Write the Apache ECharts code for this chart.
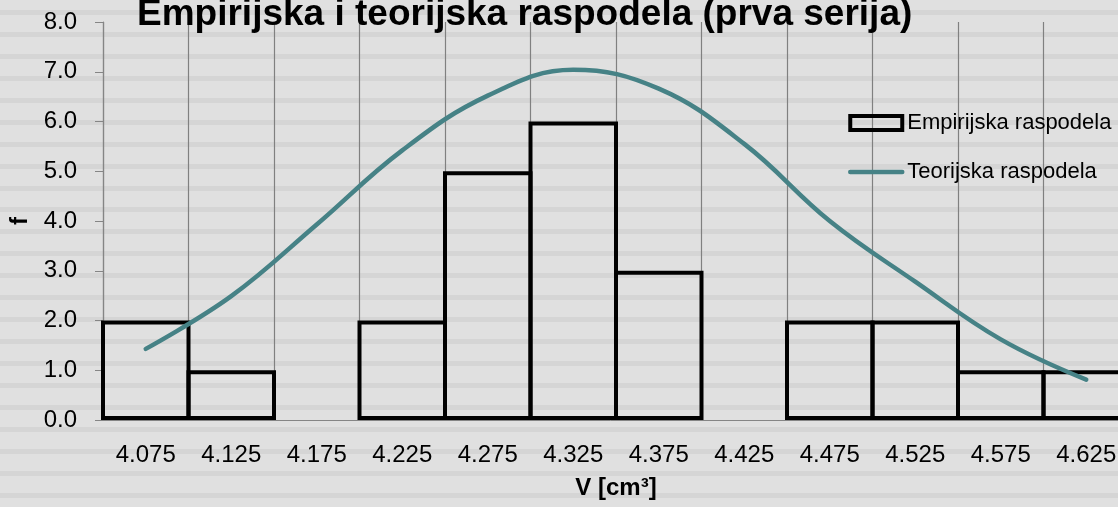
<!DOCTYPE html>
<html>
<head>
<meta charset="utf-8">
<script src="https://cdn.jsdelivr.net/npm/echarts@6/dist/echarts.min.js"></script>
<style>
  html, body { margin: 0; padding: 0; }
  /* striped sheet background */
  #chart {
    width: 1118px;
    height: 507px;
    background: repeating-linear-gradient(to bottom, #e0e0e0 0px, #e0e0e0 10px, #d5d5d5 10px, #d5d5d5 15px, #e0e0e0 15px, #e0e0e0 21.94px);
  }
</style>
</head>
<body>
<div id="chart"></div>
<script>
// intervals (class centres)
var categories = ['4.075', '4.125', '4.175', '4.225', '4.275', '4.325', '4.375', '4.425', '4.475', '4.525', '4.575', '4.625'];
// empirical frequencies
var empirical = [2, 1, 0, 2, 5, 6, 3, 0, 2, 2, 1, 1];
// theoretical (normal) frequencies
var theoretical = [1.43, 2.49, 3.93, 5.42, 6.52, 7.04, 6.66, 5.55, 4.0, 2.78, 1.62, 0.81];
var yTicks = [0, 8, 1]; // min, max, interval

var FONT = '"Liberation Sans", Arial, sans-serif';
var myChart = echarts.init(document.getElementById('chart'));

var option = {
  backgroundColor: 'transparent',
  textStyle: { fontFamily: FONT },
  title: {
    text: 'Empirijska i teorijska raspodela (prva serija)',
    left: 132,
    top: -9,
    textStyle: { fontFamily: FONT, fontSize: 37, fontWeight: 'bold', color: '#000' }
  },
  legend: {
    orient: 'vertical',
    left: 843,
    top: 107,
    itemWidth: 52,
    itemHeight: 14,
    itemGap: 27,
    textStyle: { fontFamily: FONT, fontSize: 22, color: '#000' },
    itemStyle: { borderWidth: 4 },
    lineStyle: { width: 4.5 },
    data: [
      { name: 'Empirijska raspodela', icon: 'rect' },
      { name: 'Teorijska raspodela', itemStyle: { opacity: 0 } }
    ]
  },
  grid: { left: 103, top: 22, width: 1026, height: 398, containLabel: false, outerBoundsMode: 'none' },
  xAxis: {
    type: 'category',
    data: categories,
    boundaryGap: true,
    name: 'V [cm³]',
    nameLocation: 'middle',
    nameGap: 56,
    nameTextStyle: { fontFamily: FONT, fontSize: 24, fontWeight: 'bold', color: '#000' },
    axisLine: { lineStyle: { color: '#858585', width: 1 } },
    axisTick: { show: false },
    axisLabel: { fontFamily: FONT, fontSize: 24, color: '#000', margin: 23, interval: 0 },
    splitLine: { show: true, interval: 0, lineStyle: { color: '#808080', width: 1.2 } }
  },
  yAxis: {
    type: 'value',
    min: yTicks[0],
    max: yTicks[1],
    interval: yTicks[2],
    name: 'f',
    nameLocation: 'middle',
    nameGap: 70,
    nameTextStyle: { fontFamily: FONT, fontSize: 24, fontWeight: 'bold', color: '#000' },
    axisLine: { show: true, lineStyle: { color: '#858585', width: 1.2 } },
    axisTick: { show: true, length: 8, lineStyle: { color: '#858585' } },
    axisLabel: {
      fontFamily: FONT, fontSize: 24, color: '#000', margin: 26,
      formatter: function (v) { return v.toFixed(1); }
    },
    splitLine: { show: false }
  },
  series: [
    {
      name: 'Empirijska raspodela',
      type: 'bar',
      // category width 85.5 + border width, so neighbouring borders overlap
      barWidth: 89.5,
      itemStyle: { color: 'transparent', borderColor: '#000', borderWidth: 4 },
      data: empirical.map(function (v) {
        return v === 0 ? { value: 0, itemStyle: { borderWidth: 0 } } : v;
      }),
      z: 3
    },
    {
      name: 'Teorijska raspodela',
      type: 'line',
      smooth: 0.4,
      symbol: 'none',
      color: '#468286',
      lineStyle: { color: '#468286', width: 4.5, cap: 'round' },
      data: theoretical,
      z: 4
    }
  ]
};
myChart.setOption(option);
</script>
</body>
</html>
